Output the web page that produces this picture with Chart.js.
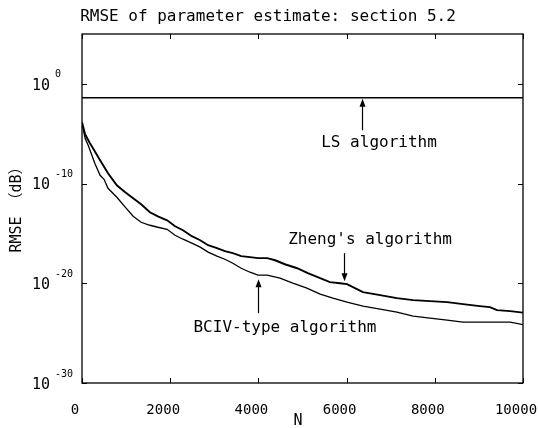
<!DOCTYPE html>
<html>
<head>
<meta charset="utf-8">
<script src="https://cdn.jsdelivr.net/npm/chart.js@4"></script>
<style>
html, body { margin: 0; padding: 0; background: #fff; }
</style>
</head>
<body>
<canvas id="c" width="538" height="428"></canvas>
<script>
// values; y values stored as log10(RMSE)
const zhengN = [0, 70, 180, 290, 410, 590, 790, 980, 1160, 1340, 1540, 1720, 1930, 2110, 2290, 2490, 2680, 2860, 3060, 3240, 3420, 3610, 3810, 3990, 4200, 4380, 4600, 4880, 5120, 5400, 5620, 5850, 6010, 6190, 6370, 6760, 7140, 7510, 7890, 8280, 8640, 9020, 9250, 9410, 9710, 10000];
const zhengExp = [-3.86, -5.06, -5.96, -6.76, -7.67, -8.97, -10.17, -10.87, -11.47, -12.08, -12.88, -13.28, -13.68, -14.28, -14.68, -15.28, -15.68, -16.18, -16.48, -16.78, -16.98, -17.28, -17.38, -17.48, -17.48, -17.69, -18.09, -18.49, -18.99, -19.49, -19.89, -19.99, -20.09, -20.49, -20.89, -21.19, -21.49, -21.69, -21.79, -21.89, -22.09, -22.29, -22.39, -22.69, -22.79, -22.94];

const bcivN = [0, 70, 140, 290, 410, 500, 590, 790, 980, 1160, 1340, 1540, 1720, 1930, 2110, 2290, 2490, 2680, 2860, 3060, 3240, 3420, 3610, 3810, 3990, 4200, 4490, 4780, 5100, 5400, 5690, 6010, 6370, 6760, 7140, 7510, 7890, 8280, 8640, 9020, 9410, 9710, 10000];
const bcivExp = [-3.86, -5.46, -6.16, -7.97, -9.17, -9.57, -10.47, -11.37, -12.37, -13.28, -13.88, -14.18, -14.38, -14.58, -15.18, -15.58, -15.98, -16.38, -16.88, -17.28, -17.59, -17.99, -18.49, -18.89, -19.19, -19.19, -19.49, -19.99, -20.49, -21.09, -21.49, -21.89, -22.29, -22.59, -22.89, -23.30, -23.50, -23.70, -23.90, -23.90, -23.90, -23.90, -24.15];

const lsN = [0, 10000];
const lsExp = [-1.4, -1.4];

const xTicks = [0, 2000, 4000, 6000, 8000, 10000];
const yTickExps = [-30, -20, -10, 0];

const FONT = "'DejaVu Sans Mono', 'Noto Sans CJK JP', monospace";

function pts(ns, es) {
    return ns.map((n, i) => ({ x: n, y: Math.pow(10, es[i]) }));
}

function arrow(ctx, x, yTail, yTip) {
    const dir = yTip > yTail ? 1 : -1;
    ctx.beginPath();
    ctx.moveTo(x, yTail);
    ctx.lineTo(x, yTip - dir * 6);
    ctx.stroke();
    ctx.beginPath();
    ctx.moveTo(x, yTip);
    ctx.lineTo(x - 3, yTip - dir * 8);
    ctx.lineTo(x + 3, yTip - dir * 8);
    ctx.closePath();
    ctx.fill();
}

// frame, inward ticks, y labels, titles and annotations
const decorate = {
    id: 'decorate',
    afterDraw(chart) {
        const ctx = chart.ctx;
        const a = chart.chartArea;
        const xs = chart.scales.x, ys = chart.scales.y;
        ctx.save();
        ctx.strokeStyle = '#000';
        ctx.fillStyle = '#000';
        ctx.lineWidth = 1.3;
        ctx.strokeRect(a.left, a.top, a.right - a.left, a.bottom - a.top);

        ctx.lineWidth = 1;
        ctx.beginPath();
        xTicks.forEach(v => {
            const px = Math.round(xs.getPixelForValue(v)) + 0.5;
            ctx.moveTo(px, a.bottom); ctx.lineTo(px, a.bottom - 5);
            ctx.moveTo(px, a.top); ctx.lineTo(px, a.top + 5);
        });
        yTickExps.forEach(e => {
            const py = Math.round(ys.getPixelForValue(Math.pow(10, e))) + 0.5;
            ctx.moveTo(a.left, py); ctx.lineTo(a.left + 5, py);
            ctx.moveTo(a.right, py); ctx.lineTo(a.right - 5, py);
        });
        ctx.stroke();

        // y tick labels 10^e
        yTickExps.forEach(e => {
            const py = ys.getPixelForValue(Math.pow(10, e));
            ctx.font = '15px ' + FONT;
            ctx.textAlign = 'right';
            ctx.textBaseline = 'middle';
            ctx.fillText('10', 50, py + 2);
            ctx.font = '10px ' + FONT;
            ctx.textAlign = 'left';
            ctx.fillText(String(e), 55, py - 9);
        });

        // titles
        ctx.font = '16px ' + FONT;
        ctx.textAlign = 'center';
        ctx.textBaseline = 'middle';
        ctx.fillText('RMSE of parameter estimate: section 5.2', 268, 17);
        ctx.font = '15px ' + FONT;
        ctx.fillText('N', 298, 421);
        ctx.save();
        ctx.translate(17, 206);
        ctx.rotate(-Math.PI / 2);
        ctx.fillText('RMSE （dB）', 0, 0);
        ctx.restore();

        // annotations
        const X = v => xs.getPixelForValue(v);
        const Y = e => ys.getPixelForValue(Math.pow(10, e));
        ctx.font = '16px ' + FONT;
        ctx.fillText('LS algorithm', X(6735), Y(-5.96));
        ctx.fillText("Zheng's algorithm", X(6531), Y(-15.68));
        ctx.fillText('BCIV-type algorithm', X(4603), Y(-24.5));
        ctx.lineWidth = 1.2;
        arrow(ctx, Math.round(X(6350)) + 0.5, Y(-4.66), Y(-1.5));
        arrow(ctx, Math.round(X(5940)) + 0.5, Y(-16.98), Y(-19.79));
        arrow(ctx, Math.round(X(4000)) + 0.5, Y(-23.0), Y(-19.59));
        ctx.restore();
    }
};

new Chart(document.getElementById('c'), {
    type: 'line',
    data: {
        datasets: [{
            label: 'LS algorithm',
            data: pts(lsN, lsExp),
            borderColor: '#000',
            borderWidth: 1.5,
            pointRadius: 0,
            fill: false
        }, {
            label: "Zheng's algorithm",
            data: pts(zhengN, zhengExp),
            borderColor: '#000',
            borderWidth: 1.9,
            pointRadius: 0,
            fill: false
        }, {
            label: 'BCIV-type algorithm',
            data: pts(bcivN, bcivExp),
            borderColor: '#000',
            borderWidth: 1.3,
            pointRadius: 0,
            fill: false
        }]
    },
    options: {
        responsive: false,
        animation: false,
        devicePixelRatio: 1,
        layout: { padding: { top: 34, right: 15, left: 0, bottom: 0 } },
        plugins: {
            legend: { display: false },
            title: { display: false },
            tooltip: { enabled: false }
        },
        scales: {
            x: {
                type: 'linear',
                min: 0,
                max: 10000,
                afterBuildTicks(s) { s.ticks = xTicks.map(v => ({ value: v })); },
                ticks: {
                    color: '#000',
                    font: { family: FONT, size: 14 },
                    padding: 11,
                    labelOffset: -7,
                    maxRotation: 0,
                    autoSkip: false,
                    callback: v => String(v)
                },
                grid: { display: false },
                border: { display: false },
                afterFit(s) { s.height = 45; s.paddingLeft = 0; s.paddingRight = 0; }
            },
            y: {
                type: 'logarithmic',
                min: 1e-30,
                max: 1e5,
                afterBuildTicks(s) { s.ticks = yTickExps.map(e => ({ value: Math.pow(10, e) })); },
                ticks: { display: false },
                grid: { display: false },
                border: { display: false },
                afterFit(s) { s.width = 82; s.paddingTop = 0; s.paddingBottom = 0; }
            }
        }
    },
    plugins: [decorate]
});
</script>
</body>
</html>
